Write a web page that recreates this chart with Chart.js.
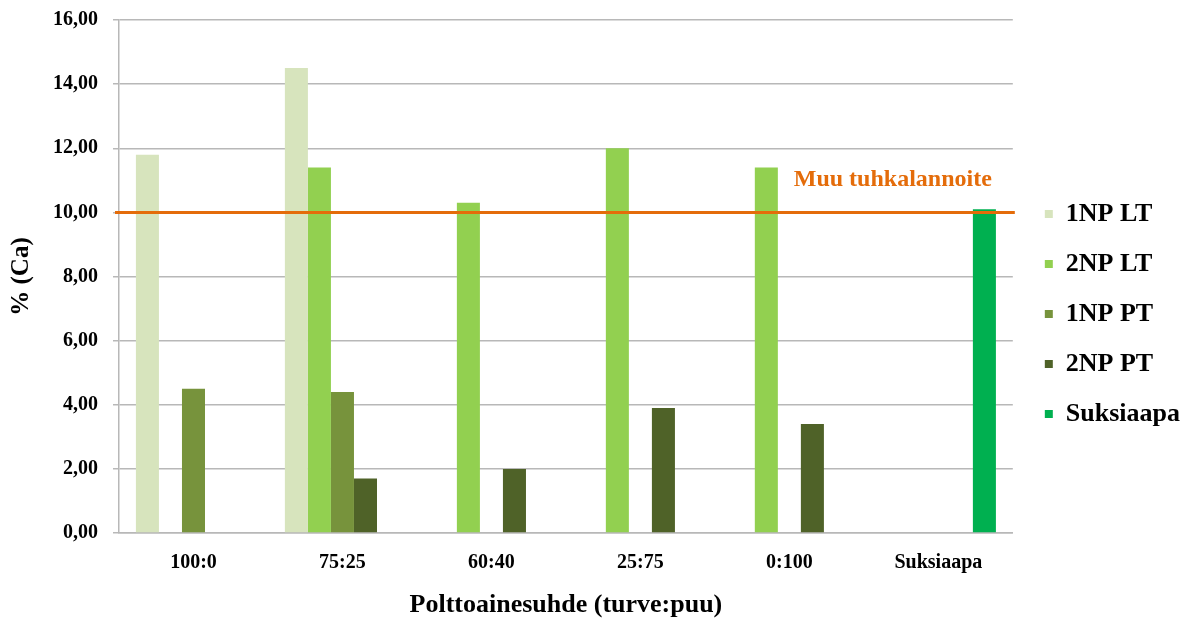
<!DOCTYPE html>
<html>
<head>
<meta charset="utf-8">
<script src="https://cdn.jsdelivr.net/npm/chart.js@4.4.0/dist/chart.umd.min.js"></script>
<style>
  html, body { margin: 0; padding: 0; background: #fff; }
  #wrap { width: 1189px; height: 618px; position: relative; }
</style>
</head>
<body>
<div id="wrap"><canvas id="c" width="1189" height="618"></canvas></div>
<script>
const categories = ['100:0', '75:25', '60:40', '25:75', '0:100', 'Suksiaapa'];
const seriesNames = ['1NP LT', '2NP LT', '1NP PT', '2NP PT', 'Suksiaapa'];
const np1LT = [11.8, 14.5, null, null, null, null];
const np2LT = [null, 11.4, 10.3, 12.0, 11.4, null];
const np1PT = [4.5, 4.4, null, null, null, null];
const np2PT = [null, 1.7, 2.0, 3.9, 3.4, null];
const suksiaapa = [null, null, null, null, null, 10.1];
const referenceValue = 10;
const referenceLabel = 'Muu tuhkalannoite';
const yAxisTitle = '% (Ca)';
const xAxisTitle = 'Polttoainesuhde (turve:puu)';

const colors = ['#D7E4BD', '#92D050', '#77933C', '#4F6228', '#00B050'];
const FONT = "'Liberation Serif', 'Times New Roman', serif";

const refLinePlugin = {
  id: 'refLine',
  afterDatasetsDraw(chart) {
    const { ctx, chartArea } = chart;
    const y = chart.scales.y.getPixelForValue(referenceValue);
    ctx.save();
    ctx.strokeStyle = '#E46C0A';
    ctx.lineWidth = 3;
    ctx.beginPath();
    ctx.moveTo(chartArea.left - 4, y);
    ctx.lineTo(chartArea.right + 2, y);
    ctx.stroke();
    ctx.fillStyle = '#E46C0A';
    ctx.font = "bold 24px " + FONT;
    ctx.textBaseline = 'alphabetic';
    ctx.textAlign = 'right';
    ctx.fillText(referenceLabel, chartArea.right - 21, y - 26);
    ctx.restore();
  }
};

const legendNudge = {
  id: 'legendNudge',
  afterLayout(chart) {
    const lg = chart.legend;
    if (!lg) return;
    const dx = (chart.chartArea.right + 8) - lg.left;
    const dy = -5;
    lg.left += dx; lg.right += dx;
    lg.top += dy; lg.bottom += dy;
  }
};

Chart.defaults.font.family = FONT;
Chart.defaults.color = '#000';

new Chart(document.getElementById('c'), {
  type: 'bar',
  data: {
    labels: categories,
    datasets: [np1LT, np2LT, np1PT, np2PT, suksiaapa].map((d, i) => ({
      label: seriesNames[i],
      data: d,
      backgroundColor: colors[i],
      borderWidth: 0,
      categoryPercentage: 0.773,
      barPercentage: 1.0
    }))
  },
  options: {
    responsive: false,
    animation: false,
    events: [],
    layout: { padding: { top: 20, left: 0, bottom: 0, right: 7 } },
    plugins: {
      tooltip: { enabled: false },
      legend: {
        position: 'right',
        align: 'center',
        labels: {
          boxWidth: 8,
          boxHeight: 8,
          padding: 24,
          color: '#000',
          font: { size: 26, weight: 'bold', family: FONT }
        }
      }
    },
    scales: {
      x: {
        grid: { display: false, drawTicks: false },
        border: { display: true, color: '#B8B8B8', width: 1.5 },
        ticks: { padding: 18, color: '#000', font: { size: 20, weight: 'bold', family: FONT } },
        title: {
          display: true, text: xAxisTitle, color: '#000',
          font: { size: 26, weight: 'bold', family: FONT, lineHeight: 1.0 },
          padding: { top: 0, bottom: 0 }
        },
        afterFit(scale) { scale.height = 85; }
      },
      y: {
        min: 0, max: 16,
        ticks: {
          stepSize: 2, padding: 15, color: '#000',
          font: { size: 20, weight: 'bold', family: FONT },
          callback: (v) => Number(v).toFixed(2).replace('.', ',')
        },
        grid: { color: '#B8B8B8', lineWidth: 1.5, tickLength: 6, drawTicks: true },
        border: { display: true, color: '#B8B8B8', width: 1.5 },
        title: {
          display: true, text: yAxisTitle, color: '#000',
          font: { size: 25, weight: 'bold', family: FONT, lineHeight: 1.2 },
          padding: { top: 7, bottom: 0 }
        },
        afterFit(scale) { scale.width = 119; scale.paddingTop = 0; scale.paddingBottom = 0; }
      }
    }
  },
  plugins: [refLinePlugin, legendNudge]
});
</script>
</body>
</html>
